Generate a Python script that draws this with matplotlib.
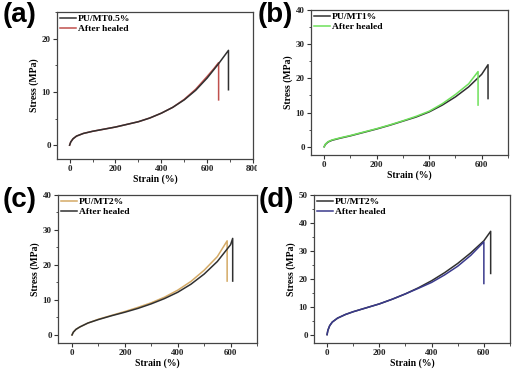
import numpy as np
import matplotlib
matplotlib.use("Agg")
import matplotlib.pyplot as plt
from matplotlib.ticker import MultipleLocator
from matplotlib.transforms import Bbox, TransformedBbox

# ---- data ----
# (a) PU/MT0.5%
a_strain = [0, 5, 15, 30, 60, 100, 150, 200, 250, 300, 350, 400, 450, 500, 550, 600, 650, 693, 693]
a_stress = [0, 0.6, 1.2, 1.7, 2.2, 2.6, 3.0, 3.4, 3.9, 4.4, 5.1, 6.0, 7.1, 8.5, 10.3, 12.6, 15.3, 17.8, 10.4]
a_heal_strain = [0, 5, 15, 30, 60, 100, 150, 200, 250, 300, 350, 400, 450, 500, 550, 600, 630, 650, 650]
a_heal_stress = [0, 0.6, 1.2, 1.7, 2.2, 2.6, 3.0, 3.4, 3.9, 4.4, 5.1, 6.0, 7.1, 8.6, 10.5, 12.9, 14.4, 15.5, 8.5]

# (b) PU/MT1%
b_strain = [0, 5, 15, 30, 60, 100, 150, 200, 250, 300, 350, 400, 450, 500, 550, 600, 624, 624]
b_stress = [0, 0.7, 1.4, 1.9, 2.5, 3.2, 4.2, 5.2, 6.3, 7.5, 8.7, 10.2, 12.2, 14.6, 17.5, 21.2, 24.0, 14.1]
b_heal_strain = [0, 5, 15, 30, 60, 100, 150, 200, 250, 300, 350, 400, 450, 500, 550, 586, 586]
b_heal_stress = [0, 0.8, 1.5, 2.0, 2.6, 3.3, 4.3, 5.3, 6.4, 7.6, 8.9, 10.4, 12.6, 15.3, 18.4, 22.0, 12.2]

# (c) PU/MT2%
c_strain = [0, 5, 15, 30, 60, 100, 150, 200, 250, 300, 350, 400, 450, 500, 550, 587, 587]
c_stress = [0, 0.8, 1.6, 2.3, 3.4, 4.5, 5.6, 6.7, 7.9, 9.2, 10.8, 12.8, 15.3, 18.5, 22.4, 26.9, 15.4]
c_heal_strain = [0, 5, 15, 30, 60, 100, 150, 200, 250, 300, 350, 400, 450, 500, 550, 600, 608, 608]
c_heal_stress = [0, 0.8, 1.6, 2.3, 3.4, 4.4, 5.5, 6.5, 7.6, 8.9, 10.4, 12.2, 14.5, 17.4, 21.0, 25.8, 27.6, 15.4]

# (d) PU/MT2%
d_strain = [0, 3, 10, 20, 40, 70, 100, 150, 200, 250, 300, 350, 400, 450, 500, 550, 600, 626, 626]
d_stress = [0, 1.5, 3.2, 4.5, 5.9, 7.2, 8.2, 9.6, 11.0, 12.7, 14.6, 16.8, 19.3, 22.2, 25.5, 29.3, 33.6, 37.0, 21.9]
d_heal_strain = [0, 3, 10, 20, 40, 70, 100, 150, 200, 250, 300, 350, 400, 450, 500, 550, 600, 600]
d_heal_stress = [0, 1.5, 3.2, 4.5, 5.9, 7.2, 8.2, 9.6, 11.0, 12.7, 14.6, 16.6, 18.7, 21.4, 24.5, 28.4, 33.2, 18.3]

serif = "Liberation Serif"
tick_fs = 6.5
lab_fs = 7

fig = plt.figure(figsize=(5.2, 3.7), dpi=100)

def px(l, r, t, b):
    W, H = 520, 370
    return [l / W, 1 - b / H, (r - l) / W, (b - t) / H]

def style(ax, xlim, ylim, ystep, xticks):
    ax.set_xlim(*xlim)
    ax.set_ylim(*ylim)
    ax.set_xticks(xticks)
    ax.yaxis.set_major_locator(MultipleLocator(ystep))
    ax.xaxis.set_minor_locator(MultipleLocator(100))
    ax.yaxis.set_minor_locator(MultipleLocator(ystep / 2))
    ax.tick_params(which="major", direction="out", length=3, width=0.8, pad=1.5, colors="#333333")
    ax.tick_params(which="minor", direction="out", length=1.8, width=0.6, colors="#333333")
    for lbl in ax.get_xticklabels() + ax.get_yticklabels():
        lbl.set_fontfamily(serif)
        lbl.set_fontweight("bold")
        lbl.set_fontsize(tick_fs)
        lbl.set_color("#222222")
    for s in ax.spines.values():
        s.set_linewidth(0.9)
        s.set_color("#444444")
    ax.set_xlabel("Strain (%)", fontfamily=serif, fontweight="bold", fontsize=lab_fs, labelpad=0.5)
    ax.set_ylabel("Stress (MPa)", fontfamily=serif, fontweight="bold", fontsize=lab_fs, labelpad=2)

def legend(ax, order=None):
    h, l = ax.get_legend_handles_labels()
    if order:
        h, l = h[::-1], l[::-1]
    ax.legend(h, l, loc="upper left", frameon=False, handlelength=1.7, handletextpad=0.2,
              borderaxespad=0.1, borderpad=0.2, labelspacing=0.15,
              prop={"family": serif, "weight": "bold", "size": 6.8})

lw = 1.1

# (a)
ax = fig.add_axes(px(57, 253, 12, 159))
ax.plot(a_heal_strain, a_heal_stress, color="#c0504d", lw=lw, label="After healed")
ax.plot(a_strain, a_stress, color="#303030", lw=lw, label="PU/MT0.5%")
style(ax, (-55, 790), (-2.6, 25), 10, [0, 200, 400, 600, 800])
legend(ax, order="rev")
# the "800" label is cut by the next panel in the original
clip = TransformedBbox(Bbox([[0, 0], [257 / 520, 1]]), fig.transFigure)
for lbl in ax.get_xticklabels():
    lbl.set_clip_box(clip)
    lbl.set_clip_on(True)

# (b)
ax = fig.add_axes(px(311, 508, 10, 155))
ax.plot(b_strain, b_stress, color="#303030", lw=lw, label="PU/MT1%")
ax.plot(b_heal_strain, b_heal_stress, color="#6ee05a", lw=lw, label="After healed")
style(ax, (-50, 700), (-2.4, 40), 10, [0, 200, 400, 600])
legend(ax)

# (c)
ax = fig.add_axes(px(58, 257, 195, 343))
ax.plot(c_strain, c_stress, color="#d4aa66", lw=lw, label="PU/MT2%")
ax.plot(c_heal_strain, c_heal_stress, color="#303030", lw=lw, label="After healed")
style(ax, (-53, 700), (-2.3, 40), 10, [0, 200, 400, 600])
legend(ax)

# (d)
ax = fig.add_axes(px(314, 510, 195, 343))
ax.plot(d_strain, d_stress, color="#303030", lw=lw, label="PU/MT2%")
ax.plot(d_heal_strain, d_heal_stress, color="#3a3a8c", lw=lw, label="After healed")
style(ax, (-50, 700), (-3, 50), 10, [0, 200, 400, 600])
legend(ax)

# panel letters
for lab, x, y in [("(a)", 3, 2), ("(b)", 258, 2), ("(c)", 3, 187), ("(d)", 259, 187)]:
    fig.text(x / 520, 1 - y / 370, lab, ha="left", va="top", fontsize=20,
             fontweight="bold", fontfamily="Liberation Sans")

fig.savefig("out.png", dpi=100)
